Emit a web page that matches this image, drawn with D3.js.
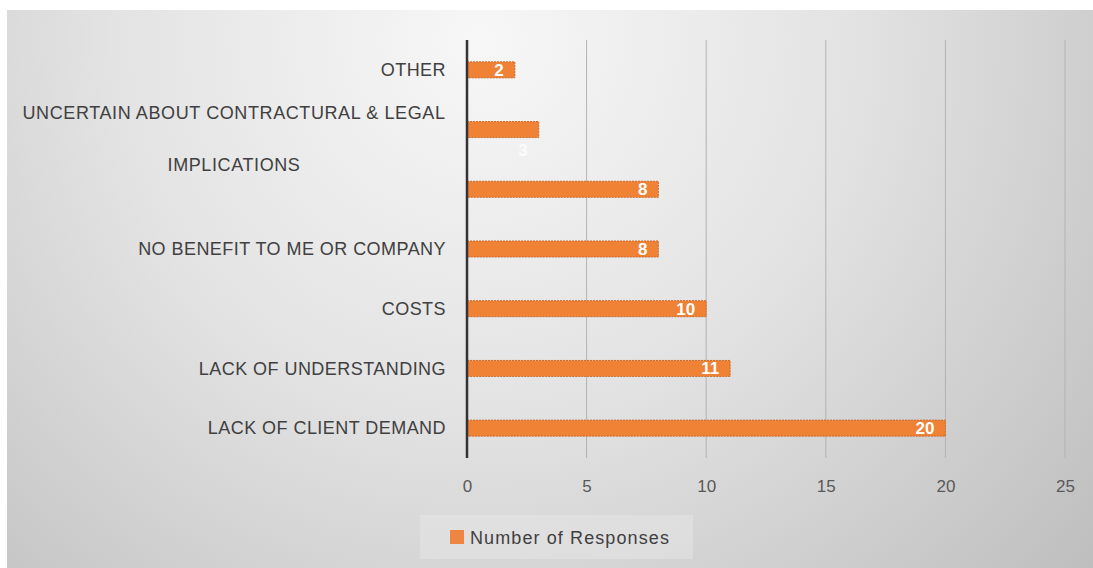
<!DOCTYPE html>
<html>
<head>
<meta charset="utf-8">
<script src="https://cdn.jsdelivr.net/npm/d3@7"></script>
<style>
  html, body { margin: 0; padding: 0; background: #fff; }
  svg text { font-family: "Liberation Sans", Arial, sans-serif; }
</style>
</head>
<body>
<div class="chart"></div>
<script>
// data, top to bottom as in the picture
const categories = [
    ["OTHER"],
    ["UNCERTAIN ABOUT CONTRACTURAL & LEGAL", "IMPLICATIONS"],
    [""],
    ["NO BENEFIT TO ME OR COMPANY"],
    ["COSTS"],
    ["LACK OF UNDERSTANDING"],
    ["LACK OF CLIENT DEMAND"]
];
const responses = [2, 3, 8, 8, 10, 11, 20];
const xTicks = [0, 5, 10, 15, 20, 25];
const seriesName = "Number of Responses";

const W = 1093, H = 568;
const margin = {top: 40, left: 467, right: 28, bottom: 110};

const root = d3.select('.chart')
    .append('svg')
    .attr("width", W)
    .attr("height", H);

// background
const defs = root.append("defs");
const grad = defs.append("radialGradient")
    .attr("id", "bg")
    .attr("gradientUnits", "userSpaceOnUse")
    .attr("cx", 480).attr("cy", 40).attr("r", 820);
grad.append("stop").attr("offset", "0%").attr("stop-color", "#f7f7f7");
grad.append("stop").attr("offset", "45%").attr("stop-color", "#e3e3e3");
grad.append("stop").attr("offset", "100%").attr("stop-color", "#bdbdbd");

root.append("rect")
    .attr("x", 7).attr("y", 10)
    .attr("width", W - 7).attr("height", H - 10)
    .attr("fill", "url(#bg)");

const svg = root.append("g")
    .attr("transform", "translate(" + margin.left + "," + margin.top + ")");

const xScale = d3.scaleLinear()
    .domain([0, 25])
    .range([0, 598]);

const yScale = d3.scaleBand()
    .domain(categories.map((d, i) => i))
    .range([0, 418])
    .paddingInner(0.732)
    .paddingOuter(0.366);

// gridlines
svg.append("g")
    .attr("class", "grid")
    .selectAll("line")
    .data(xTicks.slice(1))
    .join("line")
    .attr("x1", d => xScale(d)).attr("x2", d => xScale(d))
    .attr("y1", 0).attr("y2", 418)
    .attr("stroke", "#b3b3b3")
    .attr("stroke-width", 1);

// x axis labels
const xAxis = d3.axisBottom(xScale)
    .tickValues(xTicks)
    .tickSize(0)
    .tickPadding(0);

svg.append("g")
    .attr("class", "axis x-axis")
    .attr("transform", "translate(0,440)")
    .call(xAxis)
    .call(g => g.select(".domain").remove())
    .selectAll("text")
    .attr("font-size", 17)
    .attr("fill", "#595959")
    .attr("font-family", "Liberation Sans, Arial, sans-serif");

// bars
svg.selectAll(".bar")
    .data(responses)
    .join("rect")
    .attr("class", "bar")
    .attr("x", xScale(0))
    .attr("y", (d, i) => yScale(i))
    .attr("width", d => xScale(d) - xScale(0))
    .attr("height", yScale.bandwidth())
    .attr("fill", "#f08236")
    .attr("stroke", "#c86a2c")
    .attr("stroke-width", 1)
    .attr("stroke-dasharray", "2,1");

// data labels (the "3" one sits under its bar in the original)
svg.selectAll(".value")
    .data(responses)
    .join("text")
    .attr("class", "value")
    .attr("x", d => xScale(d) - 11)
    .attr("y", (d, i) => yScale(i) + yScale.bandwidth() / 2 + (i == 1 ? 20 : 0))
    .attr("dy", "0.35em")
    .attr("text-anchor", "end")
    .attr("font-size", 17)
    .attr("font-weight", "bold")
    .attr("font-family", "Liberation Sans Narrow, Arial Narrow, sans-serif")
    .attr("fill", "#fff")
    .attr("fill-opacity", (d, i) => i == 1 ? 0.8 : 1)
    .text(d => d);

// y axis line
svg.append("line")
    .attr("x1", xScale(0)).attr("x2", xScale(0))
    .attr("y1", 0).attr("y2", 418)
    .attr("stroke", "#333")
    .attr("stroke-width", 2.5);

// category labels
const catLabels = svg.append("g").attr("class", "axis y-axis");
categories.forEach((lines, i) => {
    const cy = yScale(i) + yScale.bandwidth() / 2;
    if (lines.length == 1) {
        catLabels.append("text")
            .attr("x", -21)
            .attr("y", cy)
            .attr("dy", "0.35em")
            .attr("text-anchor", "end")
            .attr("font-size", 18)
            .attr("letter-spacing", 0.45)
            .attr("fill", "#404040")
            .text(lines[0]);
    } else {
        lines.forEach((t, k) => {
            catLabels.append("text")
                .attr("x", -233)
                .attr("y", cy - 17 + k * 52)
                .attr("dy", "0.35em")
                .attr("text-anchor", "middle")
                .attr("font-size", 18)
                .attr("letter-spacing", 0.6)
                .attr("fill", "#404040")
                .text(t);
        });
    }
});

// legend
const legend = root.append("g")
    .attr("transform", "translate(420,515)");
legend.append("rect")
    .attr("width", 273).attr("height", 44)
    .attr("fill", "#ececec").attr("fill-opacity", 0.4);
legend.append("rect")
    .attr("x", 30).attr("y", 15)
    .attr("width", 14).attr("height", 14)
    .attr("fill", "#ee8542");
legend.append("text")
    .attr("x", 50).attr("y", 23)
    .attr("dy", "0.35em")
    .attr("font-size", 18)
    .attr("letter-spacing", 1.1)
    .attr("fill", "#404040")
    .text(seriesName);
</script>
</body>
</html>
